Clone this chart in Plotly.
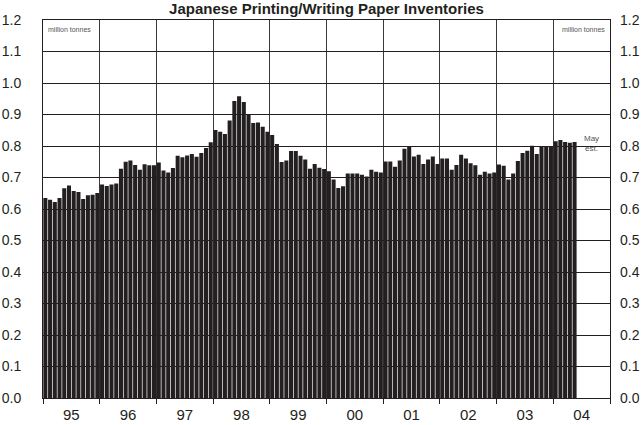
import plotly.graph_objects as go

# monthly inventories, million tonnes (Jan 95 .. May 04)
inv_1995 = [0.635, 0.629, 0.622, 0.635, 0.666, 0.675, 0.657, 0.654, 0.632, 0.644, 0.645, 0.651]
inv_1996 = [0.678, 0.673, 0.678, 0.681, 0.728, 0.750, 0.754, 0.740, 0.725, 0.742, 0.739, 0.739]
inv_1997 = [0.748, 0.722, 0.716, 0.730, 0.769, 0.764, 0.770, 0.775, 0.766, 0.778, 0.794, 0.812]
inv_1998 = [0.851, 0.845, 0.838, 0.881, 0.943, 0.958, 0.940, 0.900, 0.873, 0.875, 0.861, 0.845]
inv_1999 = [0.835, 0.806, 0.749, 0.754, 0.784, 0.784, 0.769, 0.757, 0.728, 0.743, 0.731, 0.727]
inv_2000 = [0.720, 0.694, 0.667, 0.672, 0.713, 0.713, 0.713, 0.709, 0.703, 0.725, 0.718, 0.716]
inv_2001 = [0.751, 0.751, 0.734, 0.754, 0.791, 0.797, 0.767, 0.772, 0.743, 0.757, 0.767, 0.743]
inv_2002 = [0.760, 0.760, 0.725, 0.740, 0.772, 0.760, 0.745, 0.739, 0.709, 0.718, 0.713, 0.716]
inv_2003 = [0.741, 0.737, 0.694, 0.713, 0.752, 0.778, 0.785, 0.801, 0.775, 0.797, 0.797, 0.797]
inv_2004 = [0.815, 0.819, 0.813, 0.810, 0.813]

year_labels = ["95", "96", "97", "98", "99", "00", "01", "02", "03", "04"]
y_ticks = [0.0, 0.1, 0.2, 0.3, 0.4, 0.5, 0.6, 0.7, 0.8, 0.9, 1.0, 1.1, 1.2]

inventory = (inv_1995 + inv_1996 + inv_1997 + inv_1998 + inv_1999 +
             inv_2000 + inv_2001 + inv_2002 + inv_2003 + inv_2004)
months = list(range(len(inventory)))

dark = "#231f20"
sans = "Liberation Sans, Arial, sans-serif"

fig = go.Figure()
fig.add_trace(go.Bar(x=months, y=inventory, marker=dict(color=dark, line=dict(width=0)),
                     showlegend=False))
# invisible copy so the right-hand axis gets drawn
fig.add_trace(go.Scatter(x=months, y=inventory, yaxis="y2", mode="markers",
                         marker=dict(opacity=0), hoverinfo="skip", showlegend=False))

n_years = len(year_labels)
fig.update_layout(
    width=644, height=425,
    margin=dict(l=43, r=34, t=20, b=27),
    plot_bgcolor="white", paper_bgcolor="white",
    bargap=0.14,
    font=dict(family=sans, color=dark, size=14),
    title=dict(text="<b>Japanese Printing/Writing Paper Inventories</b>",
               x=0.5, xref="paper", xanchor="center",
               y=1.0, yref="container", yanchor="top", pad=dict(t=3),
               font=dict(family=sans, size=15, color=dark)),
    xaxis=dict(
        range=[-0.5, 12 * n_years - 0.5],
        tickvals=[12 * i + 5.5 for i in range(n_years)],
        ticktext=year_labels,
        ticks="", showgrid=False, zeroline=False, automargin=False,
        showline=True, linecolor=dark, linewidth=1, mirror=True,
        tickfont=dict(size=15), ticklabelstandoff=3,
        minor=dict(tick0=-0.5, dtick=12, showgrid=True, gridcolor="#3a3a3a",
                   gridwidth=1, ticks="outside", ticklen=5, tickcolor=dark),
    ),
    yaxis=dict(
        range=[0, 1.2], tickvals=y_ticks, tickformat=".1f",
        showgrid=True, gridcolor=dark, gridwidth=1, zeroline=False, automargin=False,
        showline=True, linecolor=dark, linewidth=1, mirror=True,
        ticks="", ticklabelstandoff=18, tickfont=dict(size=14),
    ),
    yaxis2=dict(
        range=[0, 1.2], tickvals=y_ticks, tickformat=".1f", automargin=False,
        overlaying="y", side="right", showgrid=False, zeroline=False,
        ticks="", ticklabelstandoff=9, tickfont=dict(size=14),
    ),
)

for xpos, anchor in [(0.005, "left"), (0.995, "right")]:
    fig.add_annotation(text="million tonnes", xref="paper", yref="paper",
                       x=xpos, y=0.99, xanchor=anchor, yanchor="top", showarrow=False,
                       font=dict(size=7, color="#555555"))
fig.add_annotation(text="May<br>est.", x=months[-1] + 3.5, y=inventory[-1] - 0.005,
                   showarrow=False, font=dict(size=8, color="#555555"))

# drop the browser's default page margin so the figure sits at the window's corner
fig.write_html("out.html", config={"displayModeBar": False},
               post_script="document.body.style.margin = '0';")
